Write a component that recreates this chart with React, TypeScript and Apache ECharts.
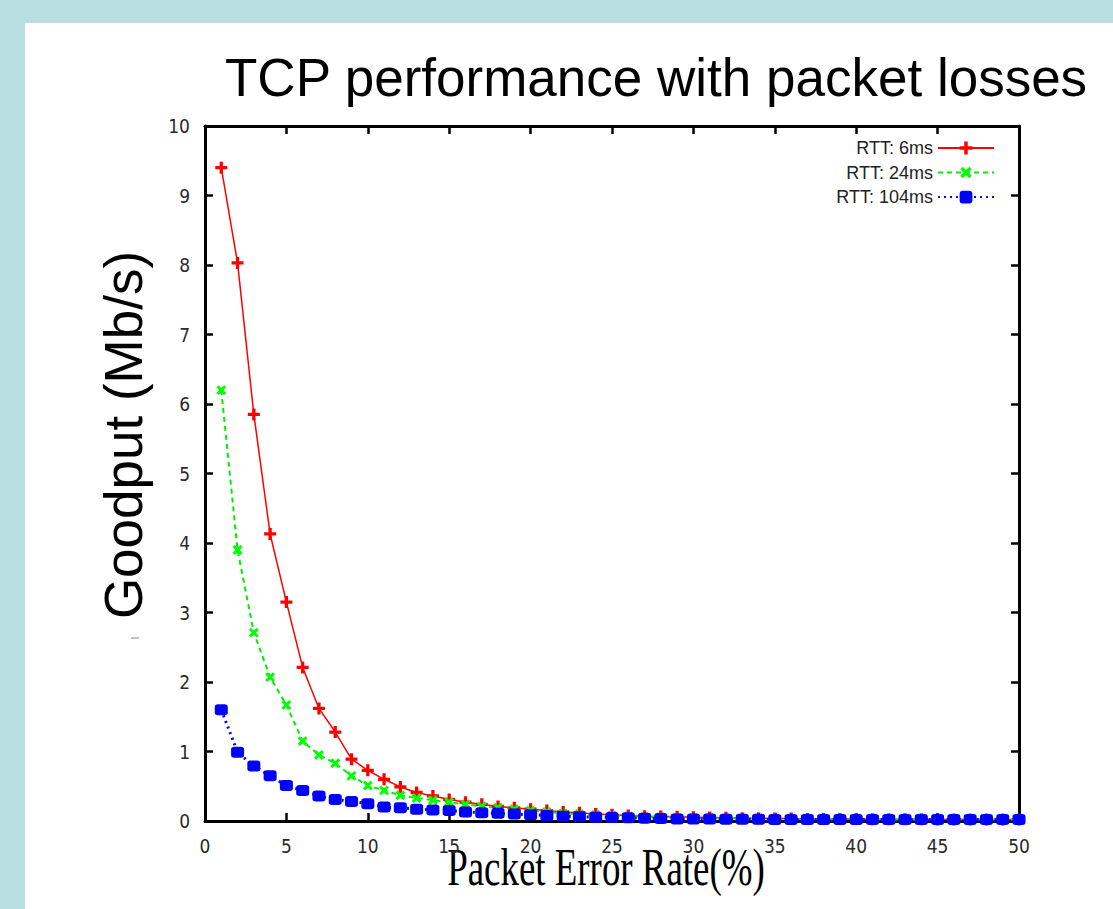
import React, { useEffect, useRef } from "react";
import * as echarts from "echarts";

const chartTitle = "TCP performance with packet losses";
const xAxisTitle = "Packet Error Rate(%)";
const yAxisTitle = "Goodput (Mb/s)";
const seriesNames = ["RTT: 6ms", "RTT: 24ms", "RTT: 104ms"];

const errorRates = [
  1, 2, 3, 4, 5, 6, 7, 8, 9, 10,
  11, 12, 13, 14, 15, 16, 17, 18, 19, 20,
  21, 22, 23, 24, 25, 26, 27, 28, 29, 30,
  31, 32, 33, 34, 35, 36, 37, 38, 39, 40,
  41, 42, 43, 44, 45, 46, 47, 48, 49, 50,
];

const goodputRtt6 = [
  9.4, 8.03, 5.85, 4.13, 3.15, 2.21, 1.62, 1.28, 0.89, 0.73,
  0.6, 0.49, 0.41, 0.36, 0.31, 0.27, 0.24, 0.21, 0.19, 0.17,
  0.15, 0.13, 0.12, 0.1, 0.09, 0.08, 0.07, 0.065, 0.06, 0.055,
  0.05, 0.045, 0.04, 0.04, 0.035, 0.035, 0.03, 0.03, 0.03, 0.03,
  0.025, 0.025, 0.025, 0.025, 0.02, 0.02, 0.02, 0.02, 0.02, 0.02,
];

const goodputRtt24 = [
  6.2, 3.9, 2.71, 2.07, 1.67, 1.15, 0.95, 0.83, 0.65, 0.51,
  0.44, 0.37, 0.33, 0.3, 0.27, 0.24, 0.21, 0.19, 0.17, 0.15,
  0.13, 0.11, 0.1, 0.09, 0.08, 0.07, 0.06, 0.055, 0.05, 0.045,
  0.04, 0.04, 0.035, 0.035, 0.03, 0.03, 0.03, 0.025, 0.025, 0.025,
  0.025, 0.02, 0.02, 0.02, 0.02, 0.02, 0.02, 0.02, 0.02, 0.02,
];

const goodputRtt104 = [
  1.6, 0.99, 0.79, 0.65, 0.51, 0.44, 0.36, 0.31, 0.28, 0.25,
  0.2, 0.19, 0.17, 0.16, 0.15, 0.13, 0.12, 0.11, 0.1, 0.09,
  0.08, 0.07, 0.06, 0.055, 0.05, 0.045, 0.04, 0.035, 0.03, 0.03,
  0.03, 0.025, 0.025, 0.025, 0.02, 0.02, 0.02, 0.02, 0.02, 0.02,
  0.02, 0.02, 0.02, 0.02, 0.02, 0.02, 0.02, 0.02, 0.02, 0.02,
];

const PLUS = "path://M4,0H7V4H11V7H7V11H4V7H0V4H4Z";
const NARROW = "'Liberation Sans Narrow', 'DejaVu Sans Condensed', 'Liberation Sans', Arial, sans-serif";
const SANS = "'Liberation Sans', Arial, sans-serif";

function pairs(ys: number[]) {
  return errorRates.map((x, i) => [x, ys[i]]);
}

export default function App() {
  const ref = useRef<HTMLDivElement>(null);

  useEffect(() => {
    if (!ref.current) return;
    const chart = echarts.init(ref.current, undefined, { renderer: "svg" });

    const axisLine = { show: true, onZero: false, lineStyle: { color: "#000", width: 3 } };
    const axisTick = { show: true, inside: true, length: 8, lineStyle: { color: "#000", width: 2.5 } };
    const tickLabel = { fontFamily: NARROW, fontSize: 19, color: "#2a2a2a" };

    chart.setOption({
      animation: false,
      backgroundColor: "transparent",
      grid: { left: 205, right: 94, top: 126, bottom: 88, show: false },
      legend: {
        orient: "vertical",
        right: 113,
        top: 134,
        align: "right",
        itemWidth: 56,
        itemHeight: 16,
        itemGap: 6.5,
        textStyle: { fontFamily: SANS, fontSize: 18, lineHeight: 18, color: "#222" },
        data: seriesNames,
      },
      xAxis: [
        {
          type: "value",
          min: 0,
          max: 50,
          interval: 5,
          position: "bottom",
          axisLine,
          axisTick,
          splitLine: { show: false },
          axisLabel: { ...tickLabel, margin: 15 },
        },
        {
          type: "value",
          min: 0,
          max: 50,
          interval: 5,
          position: "top",
          axisLine,
          axisTick,
          splitLine: { show: false },
          axisLabel: { show: false },
        },
      ],
      yAxis: [
        {
          type: "value",
          min: 0,
          max: 10,
          interval: 1,
          position: "left",
          axisLine,
          axisTick,
          splitLine: { show: false },
          axisLabel: { ...tickLabel, margin: 15 },
        },
        {
          type: "value",
          min: 0,
          max: 10,
          interval: 1,
          position: "right",
          axisLine,
          axisTick,
          splitLine: { show: false },
          axisLabel: { show: false },
        },
      ],
      series: [
        {
          name: seriesNames[0],
          type: "line",
          data: pairs(goodputRtt6),
          symbol: PLUS,
          symbolSize: 12,
          lineStyle: { color: "#ff0000", width: 1.5, type: "solid" },
          itemStyle: { color: "#ff0000" },
        },
        {
          name: seriesNames[1],
          type: "line",
          data: pairs(goodputRtt24),
          symbol: PLUS,
          symbolSize: 11,
          symbolRotate: 45,
          lineStyle: { color: "#00ee00", width: 2, type: [5, 4] },
          itemStyle: { color: "#00ff00" },
        },
        {
          name: seriesNames[2],
          type: "line",
          data: pairs(goodputRtt104),
          symbol: "roundRect",
          symbolSize: [13, 11],
          lineStyle: { color: "#0000ff", width: 3, type: [2, 4] },
          itemStyle: { color: "#0000ff" },
        },
      ],
      graphic: [
        {
          type: "text",
          x: 225,
          y: 77,
          style: {
            text: chartTitle,
            fontFamily: SANS,
            fontSize: 53,
            fill: "#000",
            align: "left",
            verticalAlign: "middle",
          },
        },
        {
          type: "text",
          x: 123,
          y: 435,
          rotation: Math.PI / 2,
          style: {
            text: yAxisTitle,
            fontFamily: SANS,
            fontSize: 53,
            fill: "#000",
            align: "center",
            verticalAlign: "middle",
          },
        },
        {
          type: "text",
          x: 606,
          y: 868,
          scaleX: 0.71,
          style: {
            text: xAxisTitle,
            fontFamily: "'Liberation Serif', 'Times New Roman', serif",
            fontSize: 52,
            fill: "#000",
            align: "center",
            verticalAlign: "middle",
          },
        },
        {
          type: "line",
          shape: { x1: 131, y1: 638, x2: 139, y2: 638 },
          style: { stroke: "#888", lineWidth: 1 },
        },
      ],
    });

    return () => chart.dispose();
  }, []);

  return (
    <div style={{ position: "absolute", left: 0, top: 0, width: 1113, height: 909, background: "#b9dfe2", overflow: "hidden" }}>
      <div style={{ position: "absolute", left: 25, top: 23, width: 1088, height: 886, background: "#ffffff" }} />
      <div ref={ref} style={{ position: "absolute", left: 0, top: 0, width: 1113, height: 909 }} />
    </div>
  );
}
